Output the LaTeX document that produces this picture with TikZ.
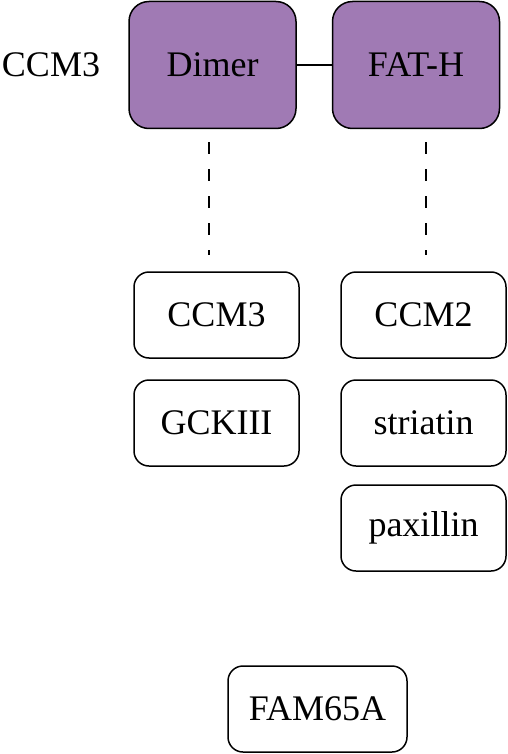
\documentclass[tikz,border=0pt]{standalone}
\usepackage{fontspec}
\setmainfont{Liberation Serif}
\usetikzlibrary{positioning}

\begin{document}
\begin{tikzpicture}[x=1pt,y=-1pt]
    \definecolor{dimerpurple}{RGB}{160,122,180}
    \newcommand{\gap}[0]{ 13pt }
    \tikzstyle{shared}=[
      draw=black,
      line width=1.5pt,
      font=\fontsize{36}{43}\selectfont,
    ]
    \tikzstyle{dimerbox}=[
      shared,
      fill=dimerpurple,
      rounded corners=20pt,
      minimum width=167pt,
      minimum height=127pt,
    ]
    \tikzstyle{partner}=[
      shared,
      rounded corners=15pt,
      minimum width=165pt,
      minimum height=86pt,
    ]
    \tikzstyle{label}=[
      font=\fontsize{36}{43}\selectfont,
    ]
    \tikzstyle{dedge}=[line width=1.5pt,dash pattern=on 12pt off 15pt,draw=black]

    \useasboundingbox (0,0) rectangle (508,754);

    \node[label] (ccm3 label) at (51,65) {CCM3};
    \node[dimerbox] (dimer) at (212.5,65) {Dimer};
    \node[dimerbox] (fath) at (416,65) {FAT-H};

    \node[partner] (ccm3) at (216.5,315) {CCM3};
    \node[partner] (gckiii) at (216.5,423) {GCKIII};
    \node[partner] (ccm2) at (423.5,315) {CCM2};
    \node[partner] (striatin) at (423.5,423) {striatin};
    \node[partner] (paxillin) at (423.5,528) {paxillin};
    \node[partner,minimum width=179pt] (fam65a) at (317.5,709) {FAM65A};

    \draw[line width=1.5pt] (dimer) -- (fath);
    \draw[dedge,shorten <=\gap,shorten >=16pt] ([xshift=-3.5pt]dimer.south) -- ([xshift=-3.5pt]dimer.south |- ccm3.north);
    \draw[dedge,shorten <=\gap,shorten >=16pt] ([xshift=10pt]fath.south) -- ([xshift=10pt]fath.south |- ccm2.north);
  \end{tikzpicture}
\end{document}
